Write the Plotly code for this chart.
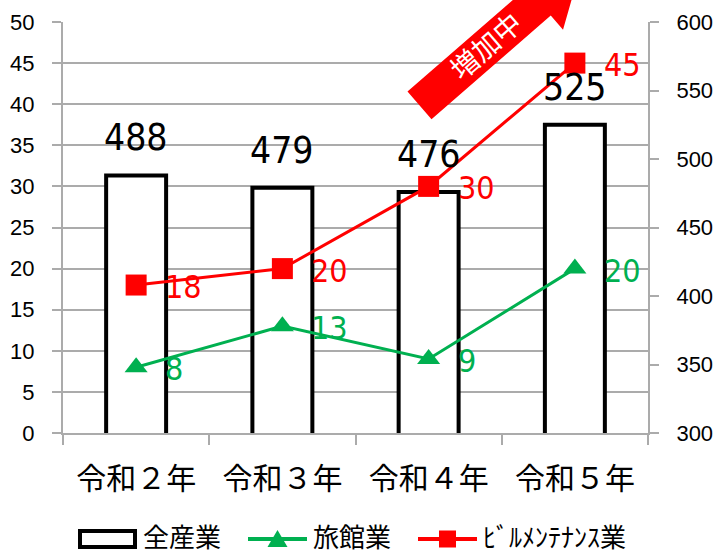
import math
import plotly.graph_objects as go

# ---- data ----
categories = ["令和２年", "令和３年", "令和４年", "令和５年"]
all_industry = [488, 479, 476, 525]        # 全産業 (right axis)
ryokan = [8, 13, 9, 20]                     # 旅館業 (left axis)
building = [18, 20, 30, 45]                 # ﾋﾞﾙﾒﾝﾃﾅﾝｽ業 (left axis)
left_ticks = list(range(0, 51, 5))
right_ticks = list(range(300, 601, 50))

W, H = 714, 555
L, R, T, B = 63, 648, 22, 433

def px(x):
    return (x - L) / (R - L)

def py(y):
    return (B - y) / (B - T)

NARROW = "DejaVu Sans Condensed, Liberation Sans Narrow, sans-serif"
SANS = "Liberation Sans, Arial, sans-serif"
CJK = "Noto Sans CJK JP, sans-serif"
GRID = "#ABABAB"
RED = "#FF0000"
GREEN = "#00B050"

fig = go.Figure()

fig.add_trace(go.Bar(
    x=categories, y=all_industry, name="全産業", yaxis="y",
    marker=dict(color="white", line=dict(color="black", width=4)),
    showlegend=False, hoverinfo="skip",
))
fig.add_trace(go.Scatter(
    x=categories, y=ryokan, name="旅館業", yaxis="y2", mode="lines+markers",
    line=dict(color=GREEN, width=3),
    marker=dict(symbol="triangle-up", size=20, color=GREEN),
    showlegend=False,
))
fig.add_trace(go.Scatter(
    x=categories, y=building, name="ﾋﾞﾙﾒﾝﾃﾅﾝｽ業", yaxis="y2", mode="lines+markers",
    line=dict(color=RED, width=3),
    marker=dict(symbol="square", size=21, color=RED),
    showlegend=False,
))

annotations = []
for c, v in zip(categories, all_industry):
    annotations.append(dict(x=c, y=v, xref="x", yref="y", text=str(v),
                            showarrow=False, yanchor="bottom", yshift=14,
                            font=dict(family=NARROW, size=37, color="black")))
for c, v in zip(categories, building):
    annotations.append(dict(x=c, y=v, xref="x", yref="y2", text=str(v),
                            showarrow=False, xanchor="left", xshift=27, yshift=-2,
                            font=dict(family=NARROW, size=32, color=RED)))
for c, v in zip(categories, ryokan):
    annotations.append(dict(x=c, y=v, xref="x", yref="y2", text=str(v),
                            showarrow=False, xanchor="left", xshift=27, yshift=-2,
                            font=dict(family=NARROW, size=32, color=GREEN)))

# ---- arrow "増加中" ----
ang = math.radians(41)
ux, uy = math.cos(ang), -math.sin(ang)
nx, ny = math.sin(ang), math.cos(ang)
cx, cy = 419.5, 105.4
hw, Ls, hh, hl = 18.3, 158, 37, 57
pts = [
    (cx - hw * nx, cy - hw * ny),
    (cx + hw * nx, cy + hw * ny),
    (cx + hw * nx + Ls * ux, cy + hw * ny + Ls * uy),
    (cx + hh * nx + Ls * ux, cy + hh * ny + Ls * uy),
    (cx + (Ls + hl) * ux, cy + (Ls + hl) * uy),
    (cx - hh * nx + Ls * ux, cy - hh * ny + Ls * uy),
    (cx - hw * nx + Ls * ux, cy - hw * ny + Ls * uy),
]
path = "M " + " L ".join(f"{px(a):.5f},{py(b):.5f}" for a, b in pts) + " Z"
shapes = [dict(type="path", path=path, xref="paper", yref="paper",
               fillcolor=RED, line=dict(width=0), layer="above")]
annotations.append(dict(x=px(485), y=py(45), xref="paper", yref="paper",
                        xanchor="center", yanchor="middle",
                        text="増加中", textangle=-41, showarrow=False,
                        font=dict(family=CJK, size=28, color="white")))

# ---- custom legend ----
LY = 539
shapes.append(dict(type="rect", xref="paper", yref="paper",
                   x0=px(80), x1=px(135), y0=py(531), y1=py(547),
                   fillcolor="white", line=dict(color="black", width=4)))
shapes.append(dict(type="line", xref="paper", yref="paper",
                   x0=px(248), x1=px(307), y0=py(LY), y1=py(LY),
                   line=dict(color=GREEN, width=4)))
tx, ty = 277.5, LY
shapes.append(dict(type="path", xref="paper", yref="paper",
                   path=f"M {px(tx-10):.5f},{py(ty+8):.5f} L {px(tx+10):.5f},{py(ty+8):.5f} L {px(tx):.5f},{py(ty-9):.5f} Z",
                   fillcolor=GREEN, line=dict(width=0)))
shapes.append(dict(type="line", xref="paper", yref="paper",
                   x0=px(418), x1=px(477), y0=py(LY), y1=py(LY),
                   line=dict(color=RED, width=4)))
shapes.append(dict(type="rect", xref="paper", yref="paper",
                   x0=px(439), x1=px(456), y0=py(LY + 8.5), y1=py(LY - 8.5),
                   fillcolor=RED, line=dict(width=0)))
for lx, txt in [(142, "全産業"), (312, "旅館業"), (482, "ﾋﾞﾙﾒﾝﾃﾅﾝｽ業")]:
    annotations.append(dict(x=px(lx), y=py(535), xref="paper", yref="paper",
                            text=txt, showarrow=False, xanchor="left", yanchor="middle",
                            borderpad=0,
                            font=dict(family=CJK, size=26, color="black")))

fig.update_layout(
    width=W, height=H,
    margin=dict(l=L, r=W - R, t=T, b=H - B, pad=0, autoexpand=False),
    paper_bgcolor="white", plot_bgcolor="white",
    bargap=0.59,
    showlegend=False,
    xaxis=dict(
        type="category", range=[-0.5, 3.5], automargin=False,
        showline=True, linecolor=GRID, linewidth=2,
        ticks="outside", tickson="boundaries", ticklen=10, tickcolor=GRID, tickwidth=2,
        tickfont=dict(family=CJK, size=30, color="black"),
        ticklabelstandoff=18, showgrid=False,
    ),
    yaxis=dict(
        side="right", range=[300, 600], tickvals=right_ticks, automargin=False,
        showgrid=False, zeroline=False,
        showline=True, linecolor=GRID, linewidth=2,
        ticks="outside", ticklen=9, tickcolor=GRID, tickwidth=2,
        tickfont=dict(family=SANS, size=22, color="black"),
        ticklabelstandoff=13,
    ),
    yaxis2=dict(
        side="left", overlaying="y", range=[0, 50], tickvals=left_ticks, automargin=False,
        showgrid=True, gridcolor=GRID, gridwidth=1.5, zeroline=False,
        showline=True, linecolor=GRID, linewidth=2,
        ticks="outside", ticklen=9, tickcolor=GRID, tickwidth=2,
        tickfont=dict(family=SANS, size=22, color="black"),
        ticklabelstandoff=13,
    ),
    shapes=shapes,
    annotations=annotations,
)

fig.write_html("out.html")
